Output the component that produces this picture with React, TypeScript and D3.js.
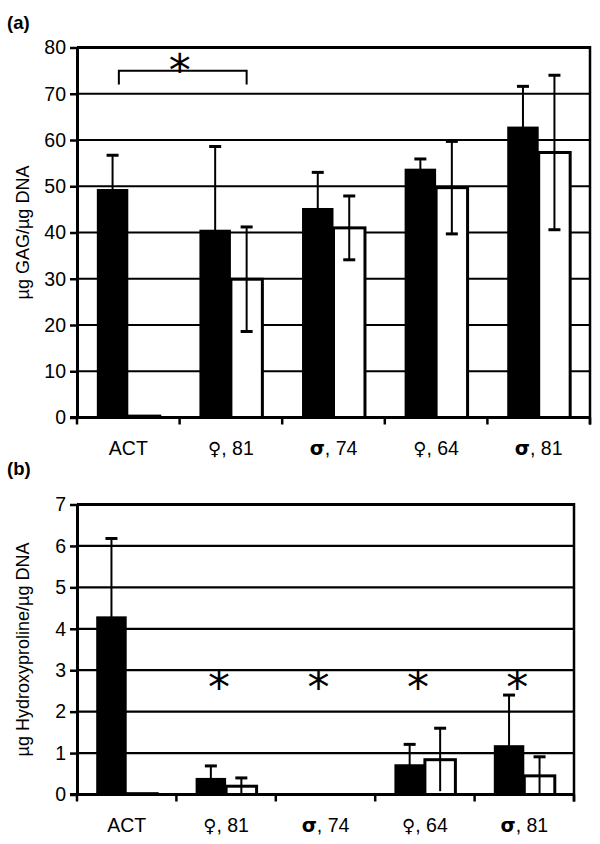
import { useEffect, useRef } from 'react';
import * as d3 from 'd3';

// Categories (donor sex, age)
const categories = ['ACT', '♀, 81', 'σ, 74', '♀, 64', 'σ, 81'];

// (a) GAG per DNA
const gagTicks = [0, 10, 20, 30, 40, 50, 60, 70, 80];
const gagBlack = [49.4, 40.6, 45.3, 53.8, 62.9];
const gagBlackErr = [7.3, 18.0, 7.7, 2.1, 8.7];
const gagWhite = [0.3, 29.9, 41.0, 49.7, 57.3];
const gagWhiteErr = [0, 11.3, 6.9, 10.0, 16.7];
const gagBracket = { from: 0, to: 1, level: 75, leg: 72, star: 76.6 };

// (b) Hydroxyproline per DNA
const hypTicks = [0, 1, 2, 3, 4, 5, 6, 7];
const hypBlack = [4.3, 0.4, 0, 0.73, 1.19];
const hypBlackErr = [1.88, 0.29, 0, 0.48, 1.21];
const hypWhite = [0.02, 0.2, 0, 0.84, 0.45];
const hypWhiteErr = [0, 0.2, 0, 0.76, 0.46];
const hypSig = [false, true, true, true, true];
const hypStarLevel = 2.75;

const FONT = 'Arial, "Liberation Sans", Helvetica, sans-serif';

interface PanelSpec {
  letter: string;
  letterY: number;
  top: number;
  bottom: number;
  left: number;
  right: number;
  ticks: number[];
  black: number[];
  blackErr: number[];
  white: number[];
  whiteErr: number[];
  title: string;
  labelY: number;
}

function drawPanel(svg: d3.Selection<SVGSVGElement, unknown, null, undefined>, p: PanelSpec) {
  const g = svg.append('g');
  const yMax = p.ticks[p.ticks.length - 1];

  const x = d3.scaleBand().domain(categories).range([p.left, p.right]).padding(0);
  const xSub = d3
    .scaleBand()
    .domain(['black', 'white'])
    .range([0, x.bandwidth()])
    .paddingInner(0)
    .paddingOuter(0.63);
  const y = d3.scaleLinear().domain([0, yMax]).range([p.bottom, p.top]);

  // letter
  g.append('text')
    .attr('x', 7)
    .attr('y', p.letterY)
    .attr('font-family', FONT)
    .attr('font-weight', 'bold')
    .attr('font-size', 18.5)
    .text(p.letter);

  // gridlines
  g.selectAll('line.grid')
    .data(p.ticks.filter((t) => t > 0))
    .enter()
    .append('line')
    .attr('x1', p.left)
    .attr('x2', p.right)
    .attr('y1', (d) => y(d))
    .attr('y2', (d) => y(d))
    .attr('stroke', '#000')
    .attr('stroke-width', (d) => (d === yMax ? 3 : 2.2));

  const rows = categories.map((c, i) => ({
    c,
    black: p.black[i],
    blackErr: p.blackErr[i],
    white: p.white[i],
    whiteErr: p.whiteErr[i],
  }));

  // black bars
  g.selectAll('rect.black')
    .data(rows.filter((d) => d.black > 0))
    .enter()
    .append('rect')
    .attr('x', (d) => (x(d.c) || 0) + (xSub('black') || 0))
    .attr('y', (d) => y(d.black))
    .attr('width', xSub.bandwidth())
    .attr('height', (d) => p.bottom - y(d.black))
    .attr('fill', '#000');

  // white bars
  g.selectAll('rect.white')
    .data(rows.filter((d) => d.white > 0))
    .enter()
    .append('rect')
    .attr('x', (d) => (x(d.c) || 0) + (xSub('white') || 0))
    .attr('y', (d) => y(d.white))
    .attr('width', xSub.bandwidth())
    .attr('height', (d) => p.bottom - y(d.white))
    .attr('fill', '#fff')
    .attr('stroke', '#000')
    .attr('stroke-width', 3);

  // error bars
  const errs: { cx: number; v: number; e: number }[] = [];
  rows.forEach((d) => {
    if (d.blackErr > 0)
      errs.push({ cx: (x(d.c) || 0) + (xSub('black') || 0) + xSub.bandwidth() / 2, v: d.black, e: d.blackErr });
    if (d.whiteErr > 0)
      errs.push({ cx: (x(d.c) || 0) + (xSub('white') || 0) + xSub.bandwidth() / 2, v: d.white, e: d.whiteErr });
  });
  const eg = g.selectAll('g.err').data(errs).enter().append('g');
  eg.append('line')
    .attr('x1', (d) => d.cx)
    .attr('x2', (d) => d.cx)
    .attr('y1', (d) => y(Math.max(0, d.v - d.e)))
    .attr('y2', (d) => y(d.v + d.e))
    .attr('stroke', '#000')
    .attr('stroke-width', 2);
  eg.append('line')
    .attr('x1', (d) => d.cx - 6)
    .attr('x2', (d) => d.cx + 6)
    .attr('y1', (d) => y(d.v + d.e))
    .attr('y2', (d) => y(d.v + d.e))
    .attr('stroke', '#000')
    .attr('stroke-width', 3);
  eg.filter((d) => d.v - d.e > 0.02 * yMax)
    .append('line')
    .attr('x1', (d) => d.cx - 6)
    .attr('x2', (d) => d.cx + 6)
    .attr('y1', (d) => y(d.v - d.e))
    .attr('y2', (d) => y(d.v - d.e))
    .attr('stroke', '#000')
    .attr('stroke-width', 3);

  // right frame
  g.append('line')
    .attr('x1', p.right)
    .attr('x2', p.right)
    .attr('y1', p.top - 1.5)
    .attr('y2', p.bottom + 7)
    .attr('stroke', '#000')
    .attr('stroke-width', 2.5);

  // y axis
  const yAxis = g
    .append('g')
    .attr('transform', `translate(${p.left},0)`)
    .call(
      d3
        .axisLeft(y)
        .tickValues(p.ticks)
        .tickFormat(d3.format('d'))
        .tickSize(7)
        .tickPadding(4)
        .tickSizeOuter(0)
    );
  yAxis.select('.domain').attr('stroke-width', 3).attr('stroke', '#000');
  yAxis.selectAll('.tick line').attr('stroke-width', 2.5).attr('stroke', '#000');
  yAxis
    .selectAll('.tick text')
    .attr('font-family', FONT)
    .attr('font-size', 19.5)
    .attr('fill', '#000');

  // x axis with ticks at category boundaries
  const bounds = categories.map((c) => x(c) || 0).concat([p.right]);
  g.append('line')
    .attr('x1', p.left - 7)
    .attr('x2', p.right)
    .attr('y1', p.bottom)
    .attr('y2', p.bottom)
    .attr('stroke', '#000')
    .attr('stroke-width', 3);
  g.selectAll('line.xtick')
    .data(bounds)
    .enter()
    .append('line')
    .attr('x1', (d) => d)
    .attr('x2', (d) => d)
    .attr('y1', p.bottom)
    .attr('y2', p.bottom + 7)
    .attr('stroke', '#000')
    .attr('stroke-width', 2.5);
  const lab = g
    .selectAll('text.xlab')
    .data(categories)
    .enter()
    .append('text')
    .attr('x', (d) => (x(d) || 0) + x.bandwidth() / 2)
    .attr('y', p.labelY)
    .attr('text-anchor', 'middle')
    .attr('font-family', FONT)
    .attr('font-size', 19.5);
  // sex symbol in its own tspan so it can use a font that has the glyph
  lab.each(function (d) {
    const t = d3.select(this);
    const sym = d.startsWith('♀') || d.startsWith('σ');
    if (!sym) {
      t.text(d);
      return;
    }
    t.append('tspan')
      .attr('font-family', '"DejaVu Sans", sans-serif')
      .attr('font-weight', d.startsWith('σ') ? 'bold' : 'normal')
      .attr('font-size', d.startsWith('σ') ? 19.5 : 18)
      .text(d.slice(0, 1));
    t.append('tspan').text(d.slice(1));
  });

  // y title
  g.append('text')
    .attr('transform', `translate(29,${(p.top + p.bottom) / 2}) rotate(-90)`)
    .attr('text-anchor', 'middle')
    .attr('font-family', FONT)
    .attr('font-size', 18)
    .text(p.title);

  return { g, x, xSub, y };
}

function star(g: d3.Selection<SVGGElement, unknown, null, undefined>, cx: number, cy: number) {
  const fs = 44;
  g.append('text')
    .attr('x', cx)
    .attr('y', cy + fs * 0.16)
    .attr('dominant-baseline', 'central')
    .attr('text-anchor', 'middle')
    .attr('font-family', '"DejaVu Sans", sans-serif')
    .attr('font-size', fs)
    .text('*');
}

export default function App() {
  const svgRef = useRef<SVGSVGElement>(null);

  useEffect(() => {
    if (!svgRef.current) return;
    const svg = d3.select(svgRef.current);
    svg.selectAll('*').remove();

    const a = drawPanel(svg, {
      letter: '(a)',
      letterY: 29,
      top: 47.5,
      bottom: 417.5,
      left: 77,
      right: 590,
      ticks: gagTicks,
      black: gagBlack,
      blackErr: gagBlackErr,
      white: gagWhite,
      whiteErr: gagWhiteErr,
      title: 'µg GAG/µg DNA',
      labelY: 455,
    });

    // significance bracket
    const bx1 = (a.x(categories[gagBracket.from]) || 0) + (a.xSub('black') || 0) + a.xSub.bandwidth() * 0.7;
    const bx2 = (a.x(categories[gagBracket.to]) || 0) + (a.xSub('white') || 0) + a.xSub.bandwidth() / 2;
    a.g.append('path')
      .attr(
        'd',
        `M${bx1},${a.y(gagBracket.leg)}V${a.y(gagBracket.level)}H${bx2}V${a.y(gagBracket.leg)}`
      )
      .attr('fill', 'none')
      .attr('stroke', '#000')
      .attr('stroke-width', 2);
    star(a.g, (bx1 + bx2) / 2 - 3, a.y(gagBracket.star));

    const b = drawPanel(svg, {
      letter: '(b)',
      letterY: 475,
      top: 504.5,
      bottom: 794.5,
      left: 77,
      right: 574,
      ticks: hypTicks,
      black: hypBlack,
      blackErr: hypBlackErr,
      white: hypWhite,
      whiteErr: hypWhiteErr,
      title: 'µg Hydroxyproline/µg DNA',
      labelY: 832,
    });

    categories.forEach((c, i) => {
      if (!hypSig[i]) return;
      star(b.g, (b.x(c) || 0) + b.x.bandwidth() / 2 - 7, b.y(hypStarLevel));
    });
  }, []);

  return (
    <svg
      ref={svgRef}
      width={600}
      height={844}
      style={{ position: 'absolute', left: 0, top: 0, background: '#fff' }}
    />
  );
}
